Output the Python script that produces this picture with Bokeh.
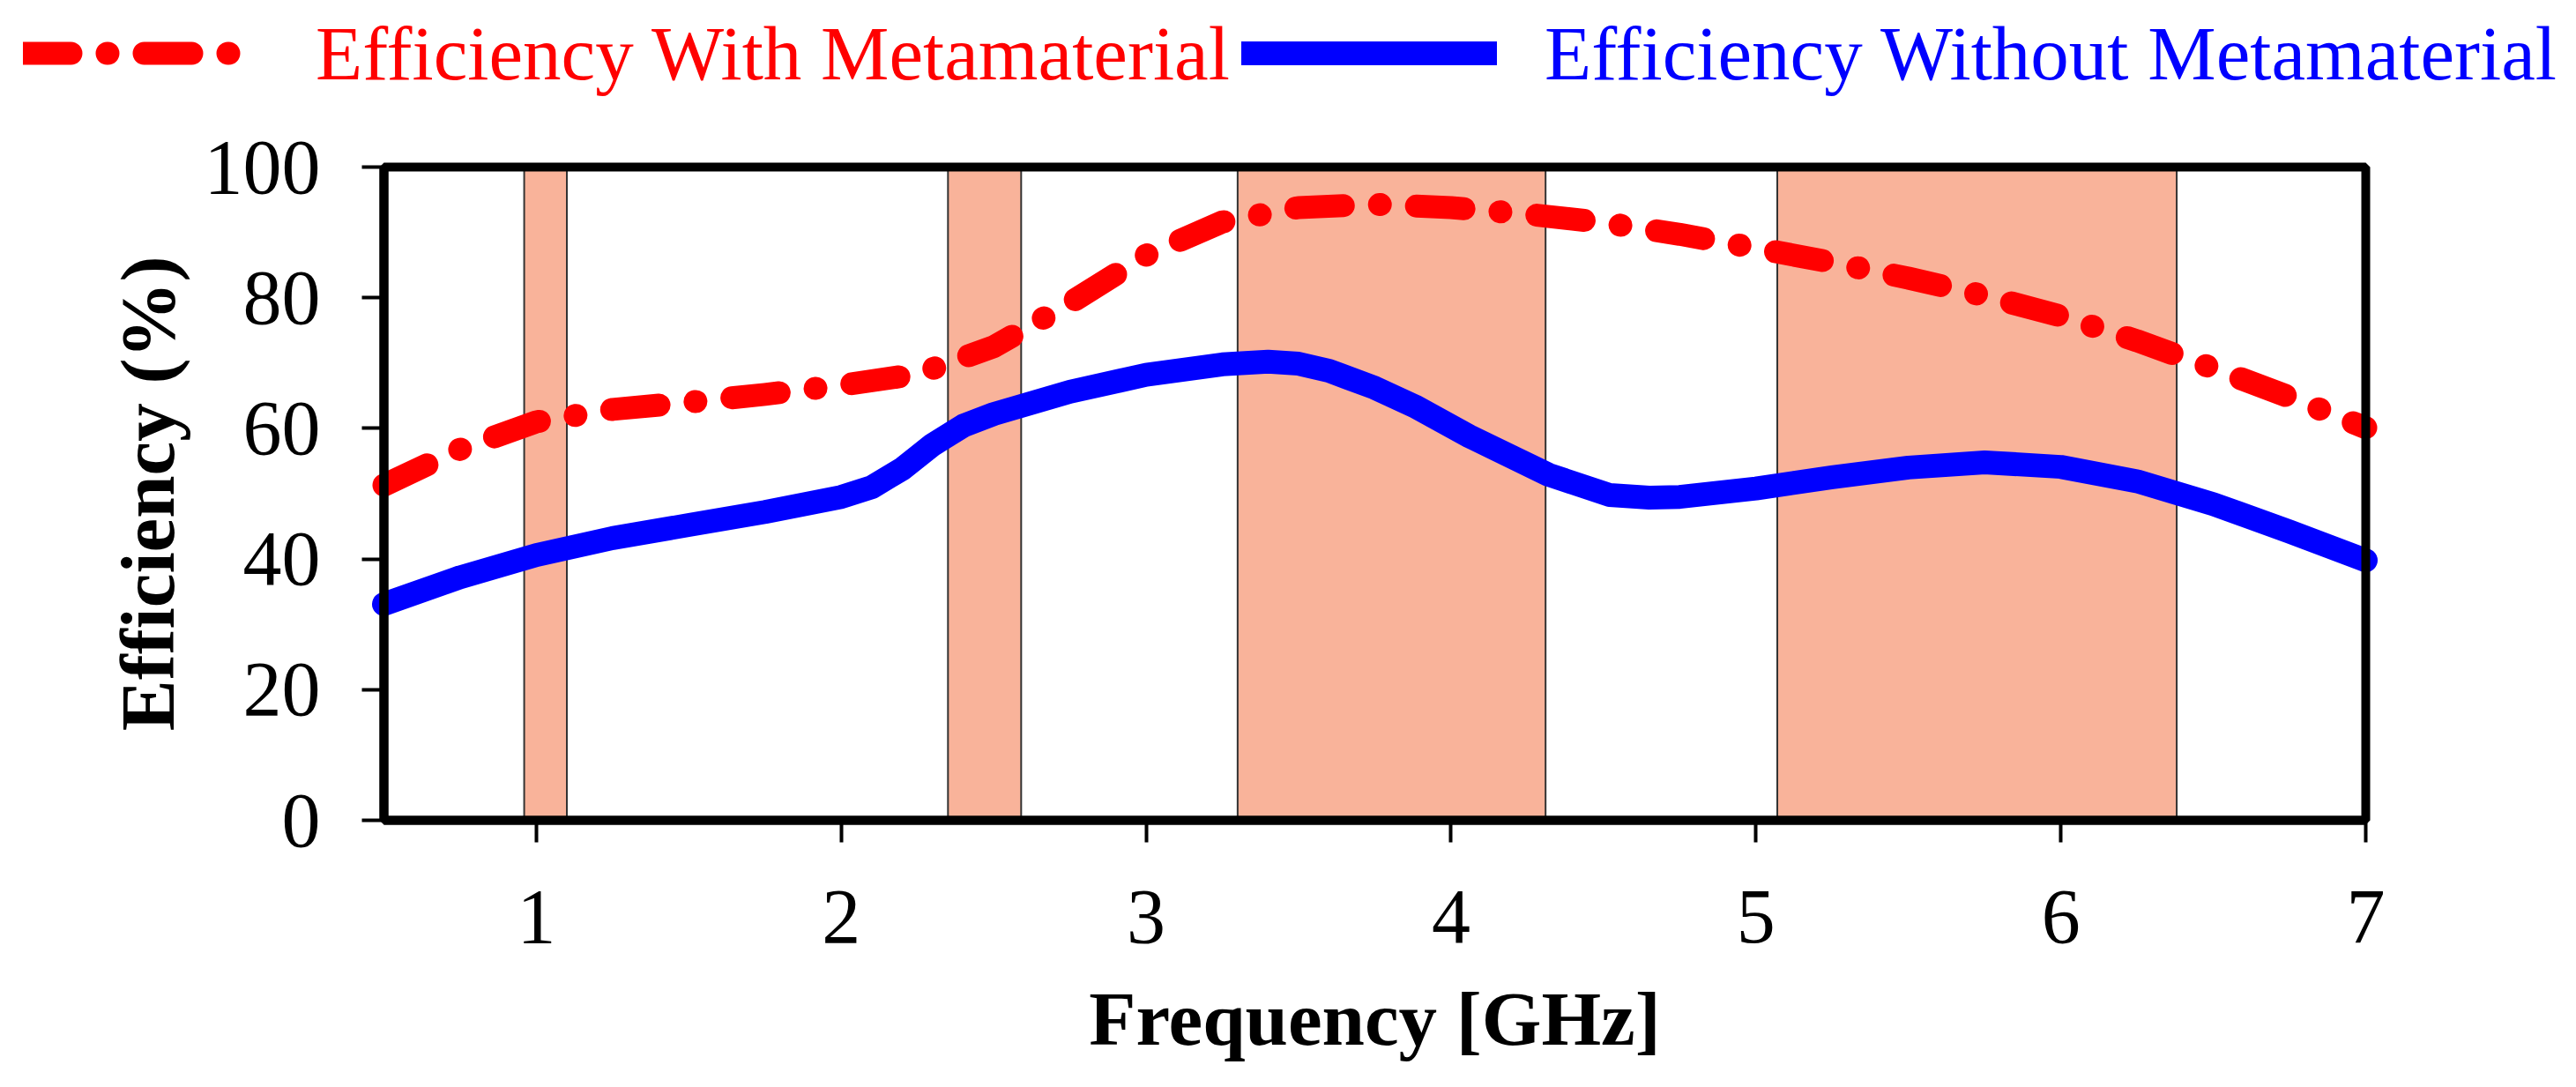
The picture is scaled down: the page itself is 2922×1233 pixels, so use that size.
from bokeh.plotting import figure
from bokeh.models import (Legend, LegendItem, FixedTicker, ColumnDataSource, Range1d,
                          LinearAxis, BoxAnnotation)
from bokeh.embed import file_html
from bokeh.resources import INLINE

# ---- data ----
freq = [0.5, 0.75, 1.0, 1.25, 1.5, 1.75, 2.0, 2.25, 2.5, 2.75, 3.0, 3.25, 3.5,
        3.75, 4.0, 4.25, 4.5, 4.75, 5.0, 5.25, 5.5, 5.75, 6.0, 6.25, 6.5, 6.75, 7.0]
eff_with = [51.3, 56.8, 61.0, 62.9, 64.0, 65.2, 66.6, 68.3, 72.5, 79.2, 86.5, 91.6, 93.8,
            94.3, 93.8, 92.8, 91.5, 89.7, 87.6, 85.4, 83.0, 80.3, 77.2, 73.4, 69.2, 64.8, 60.1]

freq_wo = [0.5, 0.75, 1.0, 1.25, 1.5, 1.75, 2.0, 2.1, 2.2, 2.3, 2.4, 2.5, 2.75, 3.0, 3.25,
           3.4, 3.5, 3.6, 3.75, 3.88, 4.06, 4.32, 4.52, 4.65, 4.75, 5.0, 5.25, 5.5, 5.75,
           6.0, 6.25, 6.5, 6.75, 7.0]
eff_without = [33.1, 37.2, 40.6, 43.2, 45.2, 47.2, 49.5, 51.0, 53.8, 57.5, 60.4, 62.2, 65.6,
               68.2, 69.8, 70.2, 69.9, 68.8, 66.2, 63.4, 58.8, 52.9, 49.8, 49.4, 49.5, 50.8,
               52.5, 54.0, 54.8, 54.1, 51.9, 48.4, 44.2, 39.8]

band_start = [0.96, 2.35, 3.30, 5.07]
band_end = [1.10, 2.59, 4.31, 6.38]

x_ticks = [1, 2, 3, 4, 5, 6, 7]
y_ticks = [0, 20, 40, 60, 80, 100]
X_MIN, X_MAX = 0.5, 7.0
Y_MIN, Y_MAX = 0, 100

label_with = "Efficiency With Metamaterial"
label_without = "Efficiency Without Metamaterial"
x_title = "Frequency [GHz]"
y_title = "Efficiency (%)"

FONT = "Liberation Serif"
RED = "#FF0000"
BLUE = "#0000FF"
RED_DASH = "54 41 1 41"

# ---- layout (pixels) ----
W, H = 2906, 1217
PX_L, PX_R, PX_T, PX_B = 435, 2683, 189, 930
kx = (X_MAX - X_MIN) / (PX_R - PX_L)
ky = (Y_MAX - Y_MIN) / (PX_B - PX_T)
x_range = Range1d(X_MIN - PX_L * kx, X_MAX + (W - PX_R) * kx)
y_range = Range1d(Y_MIN - (H - PX_B) * ky, Y_MAX + PX_T * ky)

p = figure(width=W, height=H, min_border=0,
           x_range=x_range, y_range=y_range,
           x_axis_location=None, y_axis_location=None,
           output_backend="svg", toolbar_location=None,
           outline_line_color=None,
           background_fill_color="white", border_fill_color="white")
p.xgrid.visible = False
p.ygrid.visible = False

bands = ColumnDataSource(dict(left=band_start, right=band_end,
                              bottom=[Y_MIN] * len(band_start), top=[Y_MAX] * len(band_start)))
p.quad(left="left", right="right", bottom="bottom", top="top", source=bands,
       fill_color="#F9B39A", line_color="#333333", line_width=2)

src_w = ColumnDataSource(dict(x=freq, y=eff_with))
src_wo = ColumnDataSource(dict(x=freq_wo, y=eff_without))

r_wo = p.line("x", "y", source=src_wo, line_color=BLUE, line_width=27,
              line_join="round", line_cap="round")
r_w = p.line("x", "y", source=src_w, line_color=RED, line_width=26,
             line_dash=RED_DASH, line_join="round", line_cap="round")

# plot box (top/right edges; left/bottom are the axes)
p.add_layout(BoxAnnotation(left=X_MIN, right=X_MAX, bottom=Y_MIN, top=Y_MAX,
                           fill_alpha=0, line_color="black", line_alpha=1.0,
                           line_width=10))

xaxis = LinearAxis(fixed_location=Y_MIN, bounds=(X_MIN, X_MAX),
                   ticker=FixedTicker(ticks=x_ticks), axis_label=x_title)
yaxis = LinearAxis(fixed_location=X_MIN, bounds=(Y_MIN, Y_MAX),
                   ticker=FixedTicker(ticks=y_ticks), axis_label=y_title)
for ax in (xaxis, yaxis):
    ax.axis_line_width = 10
    ax.axis_line_color = "black"
    ax.major_tick_out = 25
    ax.major_tick_in = 0
    ax.major_tick_line_width = 4
    ax.minor_tick_out = 0
    ax.minor_tick_in = 0
    ax.major_label_text_font = FONT
    ax.major_label_text_font_size = "88px"
    ax.major_label_text_color = "black"
    ax.axis_label_text_font = FONT
    ax.axis_label_text_font_size = "87px"
    ax.axis_label_text_font_style = "bold"
    ax.axis_label_text_color = "black"
xaxis.major_label_standoff = 55
xaxis.axis_label_standoff = 35
yaxis.major_label_standoff = 47
yaxis.axis_label_standoff = 13
p.add_layout(xaxis, "below")
p.add_layout(yaxis, "left")

# two one-item legends (different label colours) across the top
common = dict(orientation="horizontal", glyph_height=120, label_height=120,
              padding=0, margin=0, spacing=0, border_line_color=None,
              background_fill_alpha=0, label_text_font=FONT,
              label_text_font_size="87px")
leg1 = Legend(items=[LegendItem(label=label_with, renderers=[r_w])],
              location=(26, H - 120), glyph_width=256, label_standoff=76,
              label_text_color=RED, **common)
leg2 = Legend(items=[LegendItem(label=label_without, renderers=[r_wo])],
              location=(1408, H - 120), glyph_width=290, label_standoff=54,
              label_text_color=BLUE, **common)
p.add_layout(leg1, "center")
p.add_layout(leg2, "center")

open("out.html", "w").write(file_html(p, INLINE))
